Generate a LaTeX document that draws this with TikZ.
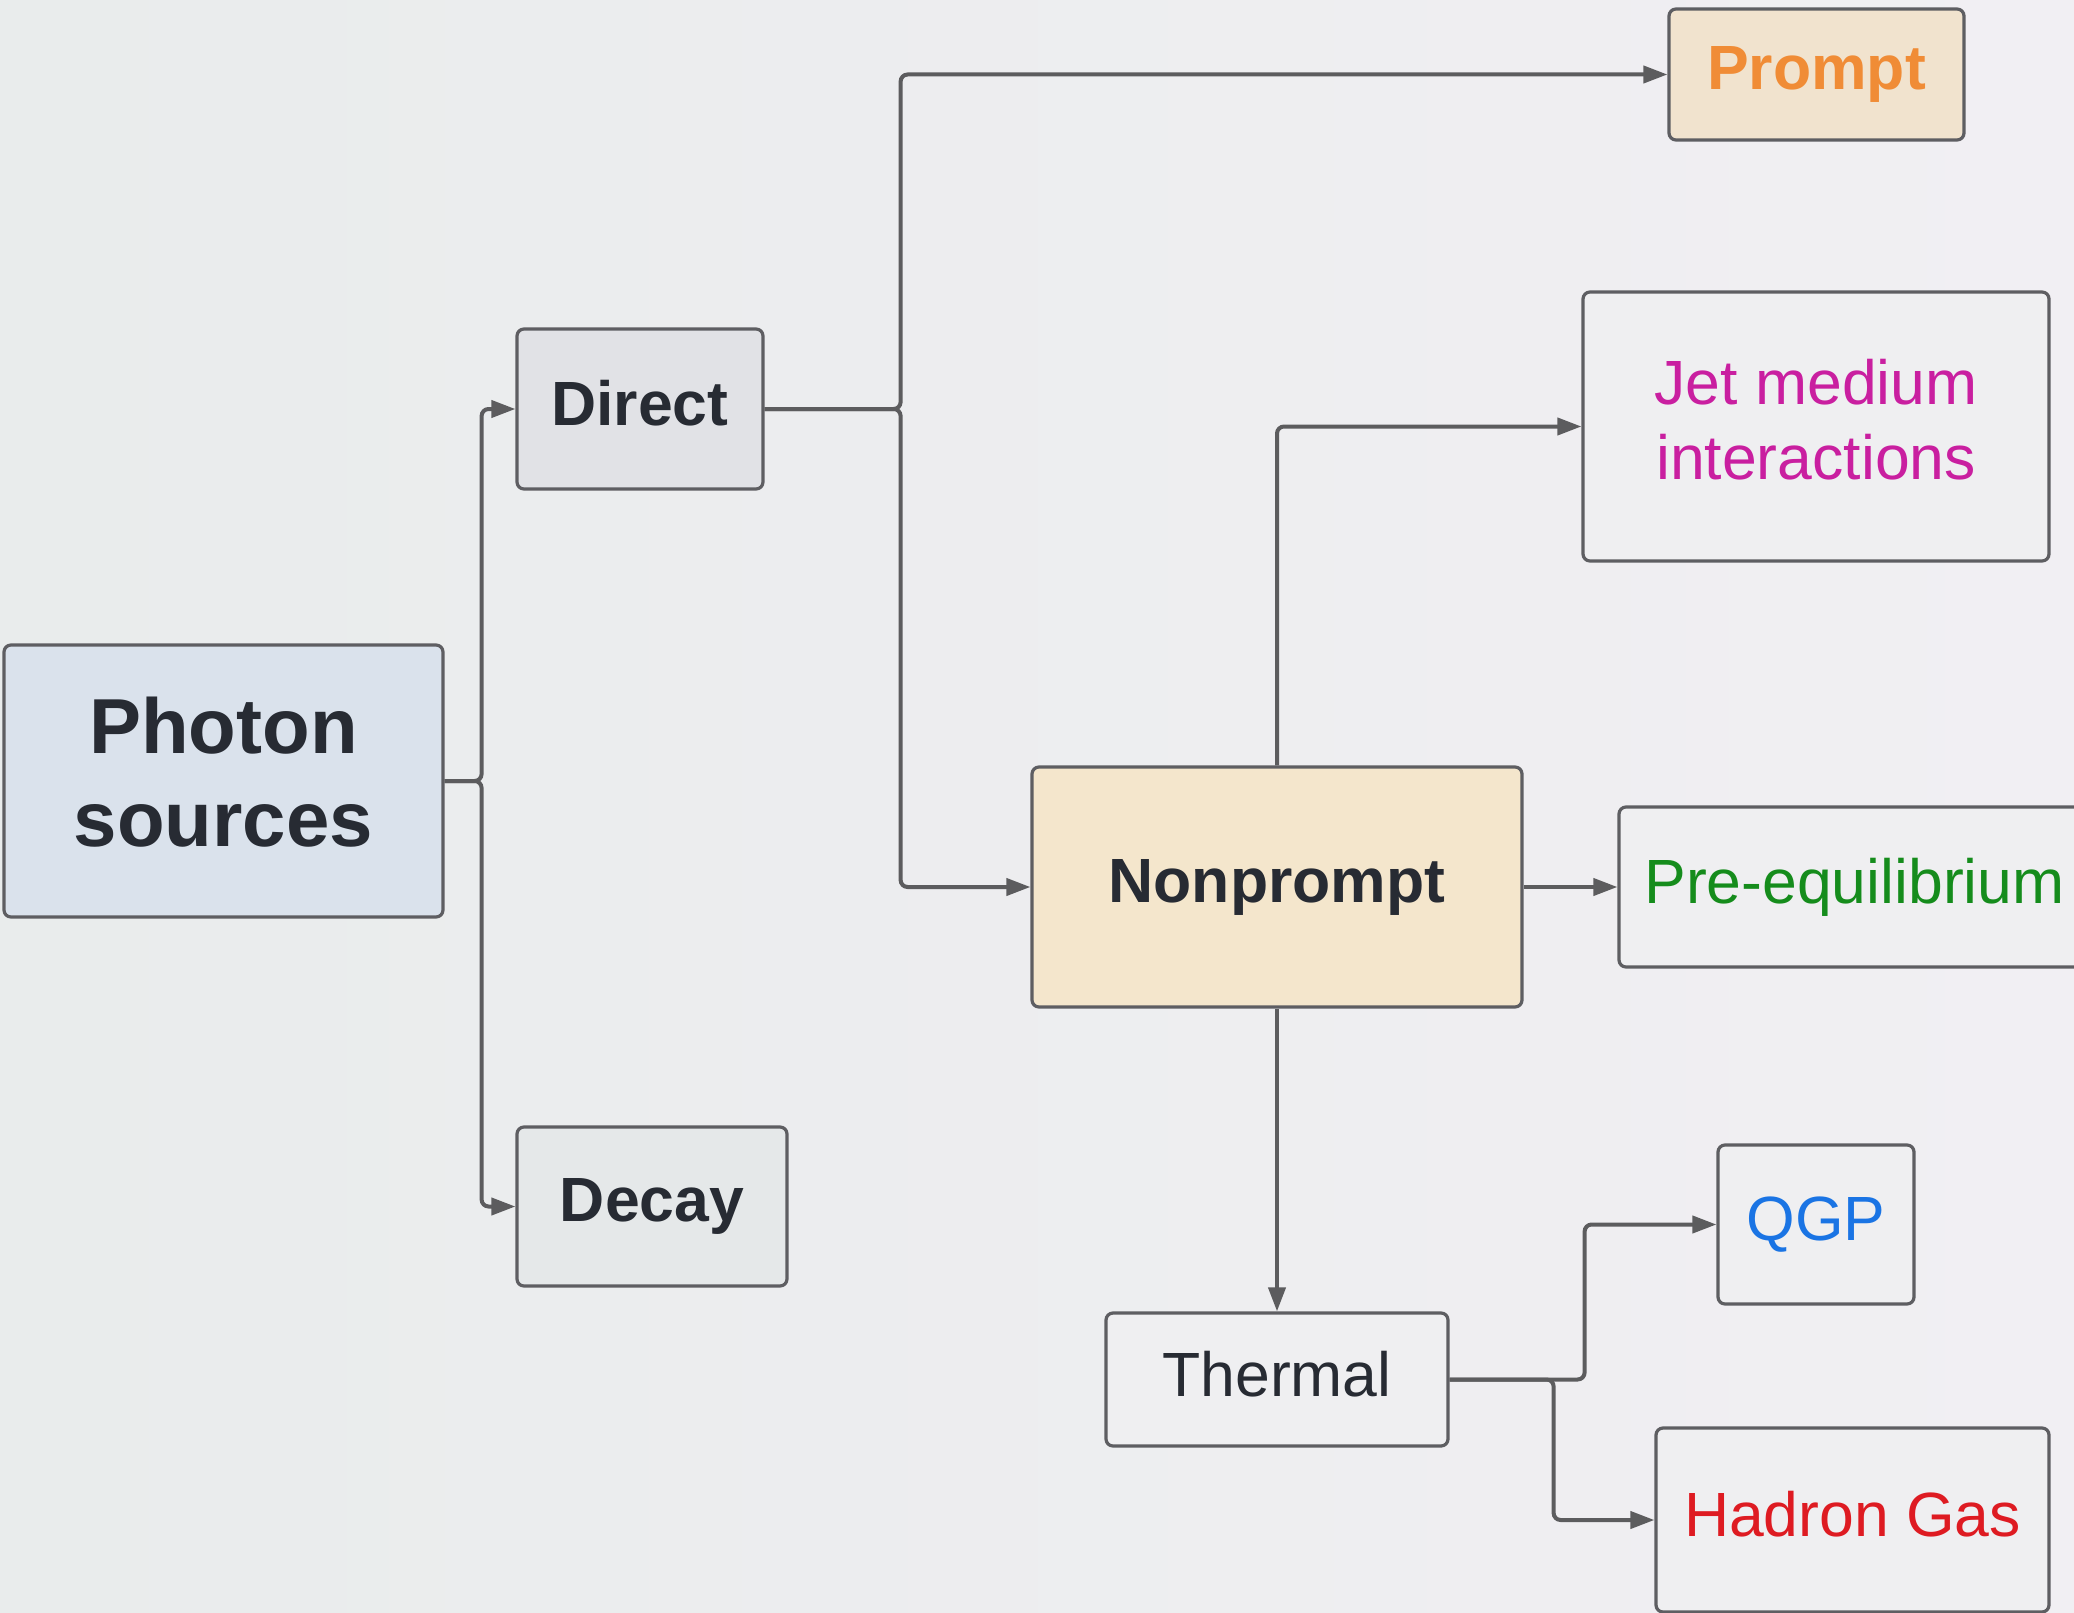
\documentclass[tikz,border=0pt]{standalone}
\usepackage{fontspec}
\setmainfont{Liberation Sans}
\usetikzlibrary{arrows.meta}
\definecolor{bgA}{HTML}{E9ECEC}
\definecolor{bgB}{HTML}{F1EFF3}
\definecolor{edgec}{HTML}{5E5E62}
\definecolor{linec}{HTML}{5C5C5E}
\definecolor{txtc}{HTML}{272B33}
\definecolor{orangec}{HTML}{F08C36}
\definecolor{magc}{HTML}{C91FA0}
\definecolor{greenc}{HTML}{158C1C}
\definecolor{bluec}{HTML}{1A74E4}
\definecolor{redc}{HTML}{DE1B22}
\definecolor{fillblue}{HTML}{DAE2EC}
\definecolor{fillgrey}{HTML}{E1E2E6}
\definecolor{filldecay}{HTML}{E5E8E9}
\definecolor{fillprompt}{HTML}{F1E3CE}
\definecolor{fillnon}{HTML}{F4E6CC}
\definecolor{fillplain}{HTML}{EFEFF1}
\newcommand{\twolines}[3]{\raisebox{#1}{\begin{tabular}{@{}c@{}}#2\\#3\end{tabular}}}
\begin{document}
\begin{tikzpicture}[x=1pt,y=-1pt,
  box/.style={draw=edgec, line width=3.2pt, rounded corners=7pt, inner sep=0pt, align=center,
    font=\fontsize{62.5}{75}\selectfont, text=txtc},
  boldbox/.style={box, font=\fontsize{62.5}{75}\selectfont\bfseries},
  conn/.style={draw=linec, line width=4pt, rounded corners=7pt,
    -{Triangle[length=24pt,width=17pt]}},
]
\useasboundingbox (0,0) rectangle (2074,1613);
\shade[left color=bgA, right color=bgB] (0,0) rectangle (2074,1613);
\clip (0,0) rectangle (2074,1613);

\node[box, fill=fillblue, minimum width=439pt, minimum height=272pt,
  font=\fontsize{78}{93}\selectfont\bfseries] (photon) at (223.5,781) {\twolines{21pt}{Photon}{sources}};
\node[boldbox, fill=fillgrey, minimum width=246pt, minimum height=160pt]
  (direct) at (640,409) {\raisebox{12pt}{Direct}};
\node[boldbox, fill=filldecay, minimum width=270pt, minimum height=159pt]
  (decay) at (652,1206.5) {Decay};
\node[boldbox, fill=fillprompt, minimum width=295pt, minimum height=131pt,
  text=orangec] (prompt) at (1816.5,74.5) {\raisebox{4pt}{Prompt}};
\node[box, fill=fillplain, minimum width=466pt, minimum height=269pt, text=magc]
  (jet) at (1816,426.5) {\twolines{7pt}{Jet medium}{interactions}};
\node[boldbox, fill=fillnon, minimum width=490pt, minimum height=240pt]
  (nonprompt) at (1277,887) {Nonprompt};
\node[box, fill=fillplain, minimum width=471pt, minimum height=160pt, text=greenc]
  (preeq) at (1854.5,887) {Pre-equilibrium};
\node[box, fill=fillplain, minimum width=196pt, minimum height=159pt, text=bluec]
  (qgp) at (1816,1224.5) {\raisebox{4pt}{QGP}};
\node[box, fill=fillplain, minimum width=342pt, minimum height=133pt]
  (thermal) at (1277,1379.5) {\raisebox{12pt}{Thermal}};
\node[box, fill=fillplain, minimum width=393pt, minimum height=184pt, text=redc]
  (hadron) at (1852.5,1520) {\raisebox{13pt}{Hadron Gas}};

\draw[conn] (photon.east) -- ++(37,0) |- (direct.west);
\draw[conn] (photon.east) -- ++(37,0) |- (decay.west);
\draw[conn] (direct.east) -- ++(136,0) |- (prompt.west);
\draw[conn] (direct.east) -- ++(136,0) |- (nonprompt.west);
\draw[conn] (nonprompt.north) |- (jet.west);
\draw[conn] (nonprompt.east) -- (preeq.west);
\draw[conn] (nonprompt.south) -- (thermal.north);
\draw[conn] (thermal.east) -- ++(135,0) |- (qgp.west);
\draw[conn] (thermal.east) -- ++(104,0) |- (hadron.west);
\end{tikzpicture}
\end{document}
